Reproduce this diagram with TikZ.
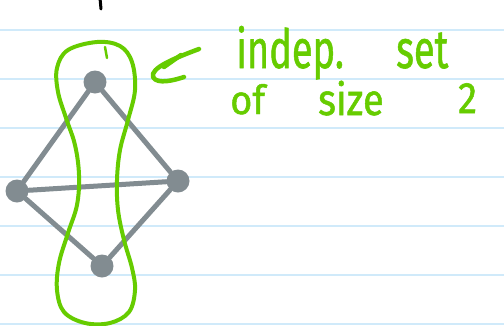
\documentclass[tikz,border=0pt]{standalone}
\usepackage{fontspec}
\setmainfont{Fira Sans}
\newfontfamily\handfont{Fira Sans}[FakeBold=1.2]
\definecolor{ink}{RGB}{102,204,0}
\definecolor{vgray}{RGB}{130,140,145}
\definecolor{rule}{RGB}{208,234,250}
\newcommand{\handword}[2][1.35]{\scalebox{0.95}[#1]{#2}}
\tikzset{
  vtx/.style={circle, fill=vgray, minimum size=23pt, inner sep=0pt},
  edge/.style={draw=vgray, line width=5pt, line cap=round},
  pen/.style={draw=ink, line width=4.5pt, line cap=round, line join=round},
  hand/.style={text=ink, font=\fontsize{40}{42}\handfont, inner sep=0pt, anchor=base west},
  ruling/.style={draw=rule, line width=1.5pt}
}
\begin{document}
\begin{tikzpicture}[x=1pt,y=-1pt]
  \fill[white] (0,0) rectangle (504,325);
  \useasboundingbox (0,0) rectangle (504,325);
  % ruled paper
  \foreach \yy in {30,79,128,177,226,275,324}
    \draw[ruling] (0,\yy) -- (504,\yy);
  % pen stroke at the top edge
  \draw[black, line width=3pt, line cap=round] (100,-2) -- (101,9);

  % vertices
  \node[vtx] (t) at (95,82) {};
  \node[vtx] (l) at (17,191) {};
  \node[vtx] (r) at (178,181) {};
  \node[vtx] (b) at (102,266) {};
  % edges
  \draw[edge] (t) -- (l);
  \draw[edge] (t) -- (r);
  \draw[edge] (l) -- (r);
  \draw[edge] (l) -- (b);
  \draw[edge] (r) -- (b);

  % loop around the independent set
  \draw[pen, line width=4pt] plot[smooth cycle, tension=0.6] coordinates {
    (97,42) (120,46) (132,62) (135,90) (128,120) (120,150) (117,180)
    (118,210) (124,240) (132,268) (135,290) (129,312) (110,323) (85,323)
    (64,312) (57,290) (59,263) (68,233) (77,205) (79,175) (75,145)
    (66,118) (58,92) (57,68) (68,50)};
  \draw[draw=ink, line width=2.5pt, line cap=round] (105,47) -- (107,58);

  % arrow mark
  \draw[pen] (199,49) .. controls (175,58) and (150,68) .. (153,77)
             .. controls (157,85) and (175,80) .. (184,77);
  \draw[pen] (181,55) -- (164,67);

  % label
  \node[hand] (w1) at (236,68) {\handword{indep.}};
  \node[hand] (w2) at (396,68) {\handword{set}};
  \node[hand] (w3) at (230,114) {\handword[1.0]{of}};
  \node[hand] (w4) at (318,115) {\handword[1.1]{size}};
  \node[hand] (w5) at (458,113) {\handword[1.1]{2}};
\end{tikzpicture}
\end{document}
